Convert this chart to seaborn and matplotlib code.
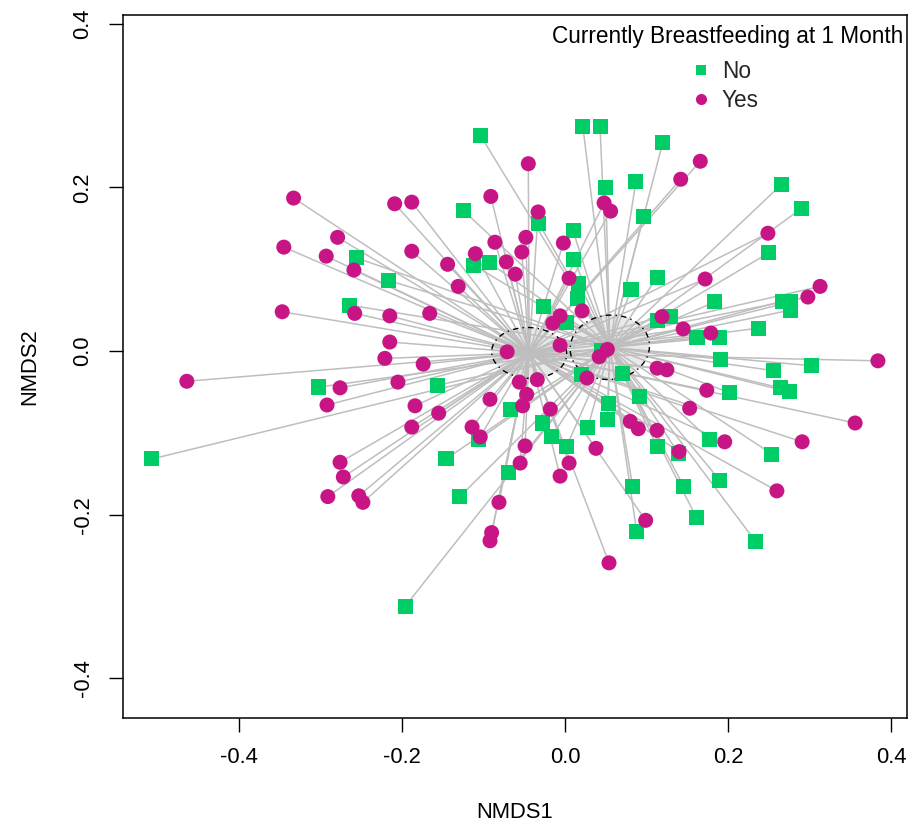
import numpy as np
import pandas as pd
import matplotlib
matplotlib.use("Agg")
import matplotlib.pyplot as plt
import seaborn as sns
from matplotlib.collections import LineCollection
from matplotlib.patches import Polygon
from matplotlib.lines import Line2D

# NMDS site scores, infants not breastfeeding at 1 month
no_x = [-0.104, 0.022, 0.043, 0.120, 0.050, 0.087, 0.096, -0.125, -0.032, 0.010,
        -0.256, -0.216, -0.112, -0.093, 0.011, 0.017, 0.015, -0.026, 0.002, 0.081,
        0.113, 0.113, 0.129, 0.266, 0.290, 0.250, 0.184, 0.267, 0.277, 0.277,
        0.238, 0.162, 0.190, -0.264, 0.191, 0.256, 0.302, 0.264, 0.275, 0.202,
        0.177, 0.113, 0.139, 0.254, 0.146, 0.190, 0.161, 0.234, 0.045, 0.020,
        0.071, 0.091, 0.053, 0.052, -0.157, -0.067, -0.028, -0.016, 0.002, 0.028,
        -0.106, -0.146, -0.069, -0.129, 0.083, 0.088, -0.196, -0.302, -0.507]
no_y = [0.264, 0.274, 0.274, 0.255, 0.200, 0.207, 0.164, 0.172, 0.156, 0.147,
        0.114, 0.086, 0.105, 0.108, 0.112, 0.083, 0.064, 0.055, 0.035, 0.075,
        0.090, 0.037, 0.042, 0.204, 0.174, 0.120, 0.060, 0.061, 0.060, 0.050,
        0.028, 0.016, 0.017, 0.056, -0.010, -0.024, -0.018, -0.045, -0.050, -0.051,
        -0.108, -0.117, -0.125, -0.126, -0.166, -0.158, -0.203, -0.233, 0.001, -0.029,
        -0.027, -0.056, -0.064, -0.084, -0.042, -0.071, -0.088, -0.104, -0.117, -0.094,
        -0.108, -0.132, -0.149, -0.178, -0.166, -0.221, -0.312, -0.044, -0.132]

# NMDS site scores, infants breastfeeding at 1 month
yes_x = [-0.333, -0.209, -0.188, -0.279, -0.345, -0.293, -0.259, -0.347, -0.258, -0.215,
         -0.215, -0.045, -0.091, -0.033, 0.048, 0.056, -0.048, -0.086, -0.053, -0.002,
         -0.188, -0.144, -0.110, -0.072, -0.061, -0.131, 0.005, -0.166, -0.015, -0.006,
         0.021, 0.119, -0.071, -0.006, 0.052, 0.042, 0.166, 0.142, 0.249, 0.172,
         0.313, 0.298, 0.145, 0.179, -0.221, -0.464, -0.276, -0.292, -0.205, -0.276,
         -0.272, -0.291, -0.253, -0.248, -0.174, -0.184, -0.155, -0.188, -0.114, -0.104,
         -0.056, -0.034, -0.047, -0.052, -0.092, -0.018, 0.027, -0.049, -0.055, 0.005,
         -0.006, 0.038, 0.080, 0.090, 0.113, 0.113, 0.125, -0.081, -0.090, -0.092,
         0.099, 0.054, 0.384, 0.174, 0.153, 0.356, 0.196, 0.291, 0.140, 0.260]
yes_y = [0.187, 0.180, 0.182, 0.139, 0.127, 0.116, 0.099, 0.048, 0.046, 0.043,
         0.011, 0.229, 0.189, 0.170, 0.181, 0.171, 0.139, 0.133, 0.121, 0.132,
         0.122, 0.106, 0.119, 0.109, 0.094, 0.079, 0.089, 0.046, 0.034, 0.043,
         0.049, 0.042, -0.001, 0.007, 0.002, -0.007, 0.232, 0.210, 0.144, 0.088,
         0.079, 0.066, 0.027, 0.022, -0.009, -0.037, -0.045, -0.066, -0.038, -0.136,
         -0.154, -0.178, -0.177, -0.185, -0.016, -0.067, -0.076, -0.093, -0.093, -0.105,
         -0.038, -0.035, -0.053, -0.067, -0.059, -0.071, -0.033, -0.116, -0.137, -0.137,
         -0.153, -0.119, -0.086, -0.095, -0.097, -0.021, -0.023, -0.185, -0.222, -0.232,
         -0.207, -0.259, -0.012, -0.048, -0.070, -0.088, -0.111, -0.111, -0.123, -0.171]

groups = ["No", "Yes"]
group_colors = {"No": "#00CD66", "Yes": "#C71585"}
group_markers = {"No": "s", "Yes": "o"}
x_ticks = [-0.4, -0.2, 0.0, 0.2, 0.4]
y_ticks = [-0.4, -0.2, 0.0, 0.2, 0.4]
legend_title = "Currently Breastfeeding at 1 Month"

scores = pd.DataFrame({
    "NMDS1": no_x + yes_x,
    "NMDS2": no_y + yes_y,
    "BF": ["No"] * len(no_x) + ["Yes"] * len(yes_x),
})

sns.set_theme(style="white")
plt.rcParams["font.family"] = ["Liberation Sans", "DejaVu Sans"]
plt.rcParams["axes.unicode_minus"] = False
FS = 15.8
LEG_FS = 16.3

fig = plt.figure(figsize=(9.23, 8.24), dpi=100)
ax = fig.add_axes([122.7 / 923, 1 - 717.7 / 824, 784.0 / 923, 702.7 / 824])

# spider: each site joined to its group centroid
q = -2.0 * np.log(1 - 0.95)  # chi-square quantile, 2 df
for g in groups:
    sub = scores[scores["BF"] == g]
    pts = sub[["NMDS1", "NMDS2"]].to_numpy()
    c = pts.mean(axis=0)
    segs = [[tuple(p), tuple(c)] for p in pts]
    ax.add_collection(LineCollection(segs, colors="#BEBEBE", linewidths=1.1, zorder=1))

    # standard-error ellipse around the centroid
    cov = np.cov(pts.T) / len(pts)
    vals, vecs = np.linalg.eigh(cov)
    th = np.linspace(0, 2 * np.pi, 200)
    circ = np.vstack([np.cos(th), np.sin(th)])
    ell = (vecs @ np.diag(np.sqrt(q * vals)) @ circ).T + c
    ax.add_patch(Polygon(ell, closed=True, facecolor=(0.75, 0.75, 0.75, 0.35),
                         edgecolor="black", linewidth=1.0,
                         linestyle=(0, (1, 3, 4, 3)), zorder=2))

sns.scatterplot(data=scores, x="NMDS1", y="NMDS2", hue="BF", style="BF",
                hue_order=groups, style_order=groups,
                palette=group_colors, markers=group_markers,
                s=117, linewidth=0, alpha=1, legend=False, ax=ax, zorder=3)

ax.set_xlim(-0.5427, 0.4193)
ax.set_ylim(-0.4483, 0.4108)
ax.set_xticks(x_ticks)
ax.set_yticks(y_ticks)
ax.set_xticklabels([f"{v:.1f}" for v in x_ticks])
ax.set_yticklabels([f"{v:.1f}" for v in y_ticks], rotation=90, va="center")
ax.tick_params(axis="both", direction="out", length=10, width=1.0, color="black",
               labelsize=FS, labelcolor="black", bottom=True, left=True)
ax.tick_params(axis="x", pad=11)
ax.tick_params(axis="y", pad=11)
for sp in ax.spines.values():
    sp.set_color("black")
    sp.set_linewidth(1.1)

ax.set_xlabel("NMDS1", fontsize=FS, color="black")
ax.set_ylabel("NMDS2", fontsize=FS, color="black")
ax.xaxis.set_label_coords(0.5, -(812 - 717.7) / 702.7)
ax.xaxis.label.set_va("center")
ax.yaxis.set_label_coords((30 - 122.7) / 784.0, 0.5)
ax.yaxis.label.set_va("center")

# legend: title right-aligned in the corner, keys below it
ax.text(0.9953, 0.9700, legend_title, transform=ax.transAxes, ha="right",
        va="center", fontsize=LEG_FS, color="black", zorder=5)
handles = [Line2D([], [], linestyle="", marker=group_markers[g], color=group_colors[g],
                  markersize=7.5 if g == "No" else 8, markeredgewidth=0) for g in groups]
leg = ax.legend(handles, groups, loc="center left",
                bbox_to_anchor=(0.7242, 0.8990), frameon=False, fontsize=LEG_FS,
                borderaxespad=0, borderpad=0,
                labelspacing=0.23, handlelength=0.97, handletextpad=0.42)

fig.savefig("out.png", dpi=100, facecolor="white")
